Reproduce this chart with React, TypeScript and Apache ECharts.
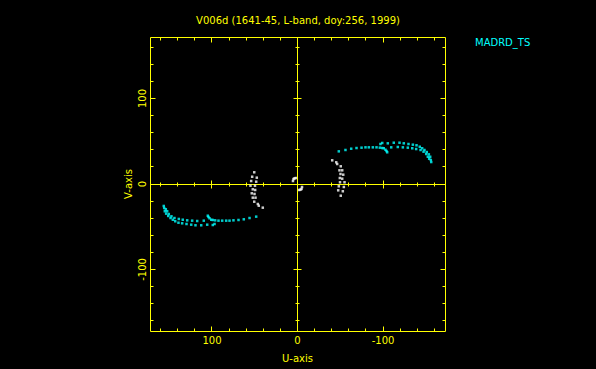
import React, { useEffect, useRef } from "react";
import * as echarts from "echarts";

const TITLE = "V006d (1641-45, L-band, doy:256, 1999)";
const LEGEND_LABEL = "MADRD_TS";
const X_NAME = "U-axis";
const Y_NAME = "V-axis";

const U_RANGE = [-172.5, 172.5];
const V_RANGE = [-172, 172];
const majorTicks = [-100, 0, 100];
const minorTicks = [-160, -140, -120, -80, -60, -40, -20, 20, 40, 60, 80, 120, 140, 160];

// measured (u, v) samples; the conjugate (-u, -v) is plotted as well
const cyanArcA = [
  [-48.3, 38.2], [-56.1, 39.8], [-62.8, 41.3], [-69.0, 42.1], [-74.9, 42.5],
  [-79.5, 42.9], [-83.4, 42.9], [-88.1, 42.9], [-92.4, 42.9], [-96.3, 42.5],
  [-99.1, 42.1], [-100.9, 41.8], [-102.9, 40.1], [-104.1, 38.6], [-104.9, 37.1],
];
const cyanArcBOuter = [
  [-97.0, 46.8], [-99.1, 48.0], [-105.6, 47.6], [-112.6, 48.3], [-119.3, 48.3],
  [-124.3, 47.6], [-129.8, 46.8], [-134.9, 46.0], [-139.2, 45.3], [-143.0, 43.6],
  [-145.8, 41.8], [-148.5, 39.8], [-151.2, 37.4], [-153.6, 34.7], [-155.2, 31.9],
  [-155.9, 28.1], [-156.4, 25.7],
];
const cyanArcBInner = [
  [-109.6, 42.9], [-117.3, 43.3], [-123.2, 42.9], [-129.0, 42.5], [-134.2, 41.8],
  [-138.8, 40.9], [-143.9, 39.8], [-147.4, 37.8], [-150.5, 35.1], [-152.4, 31.9],
  [-154.0, 29.5],
];
const whiteTrack = [
  [-50.6, -13.7], [-53.0, -8.5], [-47.6, -7.4], [-54.2, -3.5], [-48.3, -2.7],
  [-55.0, 2.0], [-49.7, 2.0], [-52.3, 6.2], [-49.5, 7.0], [-53.5, 10.9],
  [-50.3, 11.7], [-52.3, 16.0], [-49.1, 16.0], [-50.6, 20.7], [-46.4, 23.4],
  [-45.3, 25.4], [-40.6, 27.7],
];
const whiteShort = [[4.7, 5.8], [5.3, 3.5], [3.5, 6.6], [2.0, 7.0]];

const YELLOW = "#ffff00";
const CYAN = "#00ffff";
const WHITE = "#ffffff";
const FONT = "DejaVu Sans";

const withConjugate = (pts: number[][]) =>
  pts.flatMap(([u, v]) => [[u, v], [-u, -v]]);

export default function App() {
  const ref = useRef<HTMLDivElement>(null);
  useEffect(() => {
    if (!ref.current) return;
    const chart = echarts.init(ref.current, null, { renderer: "svg" });
    const snap = (v: number) => Math.round(v - 0.5) + 0.5;

    const frameItem = (params: any, api: any) => {
      const c = (u: number, v: number) => api.coord([u, v]);
      const a = c(U_RANGE[0], V_RANGE[0]);
      const b = c(U_RANGE[1], V_RANGE[1]);
      const left = snap(Math.min(a[0], b[0]));
      const right = snap(Math.max(a[0], b[0]));
      const top = snap(Math.min(a[1], b[1]));
      const bottom = snap(Math.max(a[1], b[1]));
      const x0 = snap(c(0, 0)[0]);
      const y0 = snap(c(0, 0)[1]);
      const children: any[] = [];
      const line = (x1: number, y1: number, x2: number, y2: number) =>
        children.push({
          type: "line",
          shape: { x1, y1, x2, y2 },
          style: { stroke: YELLOW, lineWidth: 1 },
        });
      line(left, top, right, top);
      line(left, bottom, right, bottom);
      line(left, top, left, bottom);
      line(right, top, right, bottom);
      line(left, y0, right, y0);
      line(x0, top, x0, bottom);
      const addTicks = (t: number, edge: number, cross: number) => {
        const x = snap(c(t, 0)[0]);
        const y = snap(c(0, t)[1]);
        line(x, bottom, x, bottom - edge);
        line(x, top, x, top + edge);
        line(x, y0 - cross, x, y0 + cross);
        line(left, y, left + edge, y);
        line(right, y, right - edge, y);
        line(x0 - cross, y, x0 + cross, y);
      };
      minorTicks.forEach((t) => addTicks(t, 3, 2));
      majorTicks.forEach((t) => addTicks(t, 5, 4));
      return { type: "group", children };
    };

    const axisText = { color: YELLOW, fontFamily: FONT, fontSize: 10 };

    chart.setOption({
      animation: false,
      backgroundColor: "#000000",
      title: {
        text: TITLE,
        left: "center",
        top: 10,
        textStyle: { ...axisText, fontWeight: "normal" },
      },
      graphic: [
        {
          type: "text",
          left: 475,
          top: 37,
          style: { text: LEGEND_LABEL, fill: CYAN, font: `10px "${FONT}"` },
        },
      ],
      grid: { left: 150, top: 37, width: 295, height: 294, containLabel: false },
      xAxis: {
        type: "value",
        inverse: true,
        min: U_RANGE[0],
        max: U_RANGE[1],
        name: X_NAME,
        nameLocation: "middle",
        nameGap: 22,
        nameTextStyle: axisText,
        axisLine: { show: false, onZero: false },
        axisTick: { show: false },
        splitLine: { show: false },
        axisLabel: { ...axisText, customValues: majorTicks, margin: 4 },
      },
      yAxis: {
        type: "value",
        min: V_RANGE[0],
        max: V_RANGE[1],
        name: Y_NAME,
        nameLocation: "middle",
        nameRotate: 90,
        nameGap: 17,
        nameTextStyle: axisText,
        axisLine: { show: false, onZero: false },
        axisTick: { show: false },
        splitLine: { show: false },
        axisLabel: { ...axisText, customValues: majorTicks, rotate: 90, margin: 3 },
      },
      series: [
        {
          type: "custom",
          name: "frame",
          data: [[0, 0]],
          renderItem: frameItem,
          clip: false,
          silent: true,
          z: 1,
        },
        {
          type: "scatter",
          name: "white",
          data: withConjugate([...whiteTrack, ...whiteShort]),
          symbol: "rect",
          symbolSize: 2.5,
          itemStyle: { color: WHITE },
          z: 3,
        },
        {
          type: "scatter",
          name: LEGEND_LABEL,
          data: withConjugate([...cyanArcA, ...cyanArcBOuter, ...cyanArcBInner]),
          symbol: "rect",
          symbolSize: 2.5,
          itemStyle: { color: CYAN },
          z: 3,
        },
      ],
    });
    return () => chart.dispose();
  }, []);

  return (
    <div
      ref={ref}
      style={{ position: "fixed", left: 0, top: 0, width: 596, height: 369, background: "#000" }}
    />
  );
}
